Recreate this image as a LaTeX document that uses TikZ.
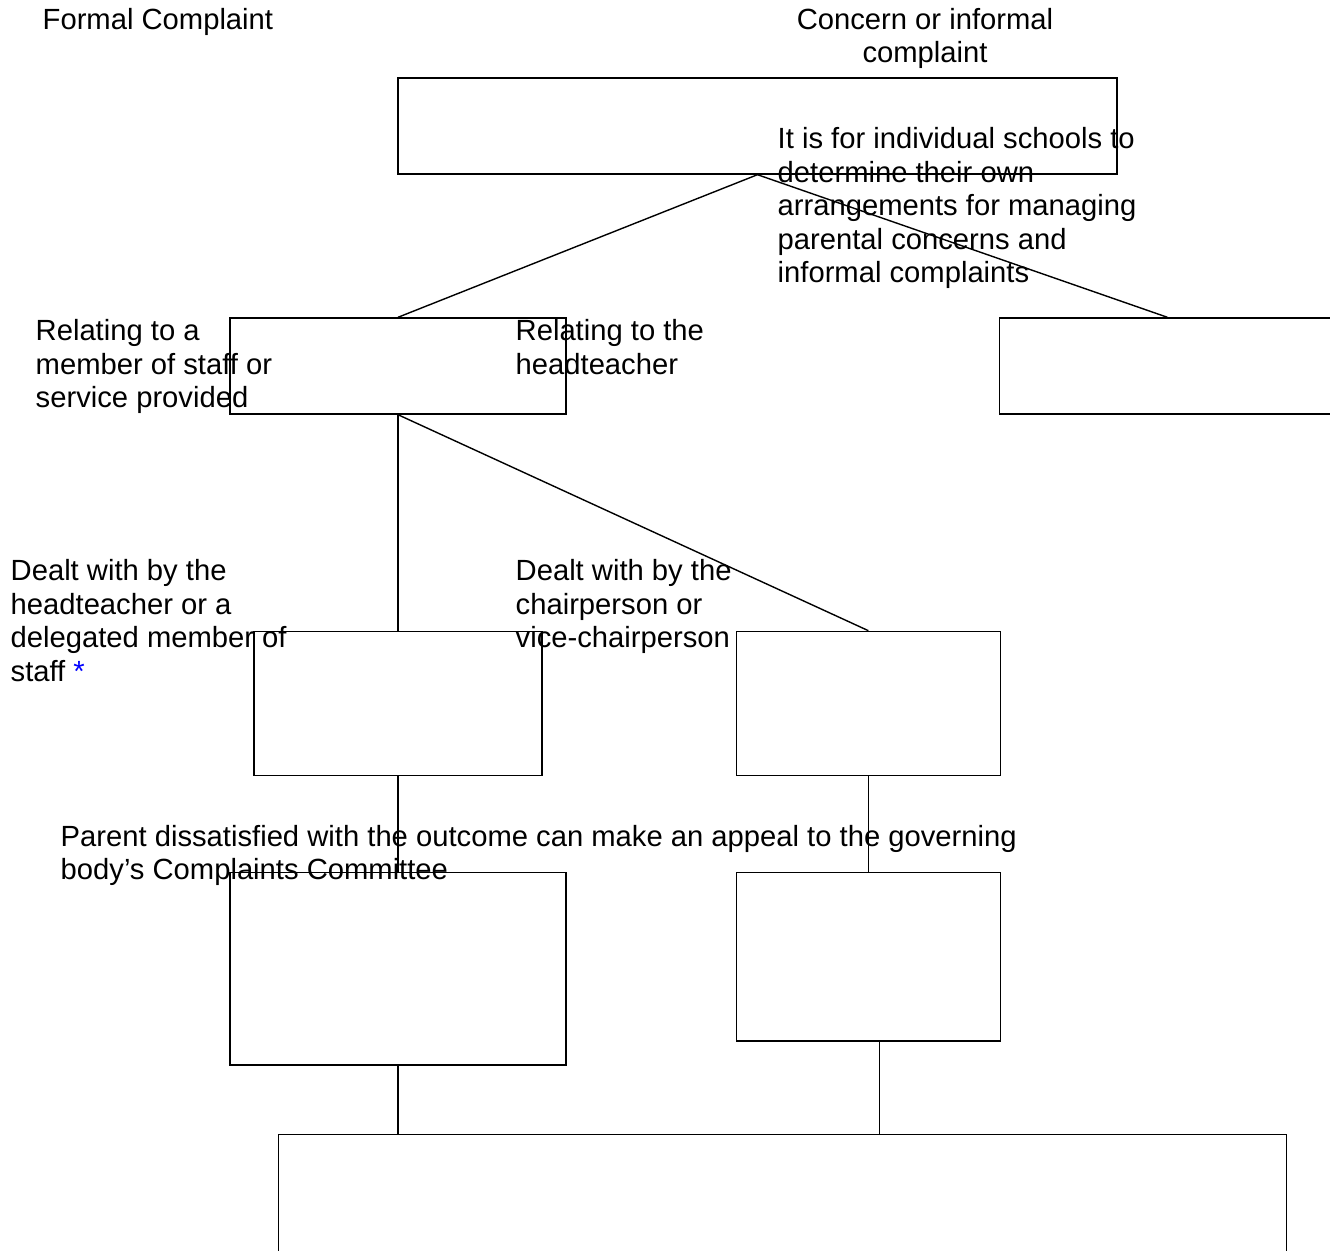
\documentclass[tikz,border=0pt]{standalone}
\usepackage{fontspec}
\setmainfont{Liberation Sans}
\usetikzlibrary{positioning}

\begin{document}
\begin{tikzpicture}[x=0.5pt, y=-0.5pt, line width=0.7pt,
    every node/.style={font=\fontsize{14.6}{16.75}\selectfont},
    box/.style={draw, inner sep=0pt},
    note/.style={align=left, inner sep=0pt, anchor=base west}]
\useasboundingbox (0,0) rectangle (1330,1251);

\node[box, minimum width=359.5pt, minimum height=48pt] (complaint) at (757.5,126) {};
\node[box, minimum width=168pt, minimum height=48pt] (staffbox) at (398,366) {};
\node[box, minimum width=168pt, minimum height=48pt, right=216pt of staffbox] (concernbox) {};
\node[box, minimum width=144pt, minimum height=72pt, below=108pt of staffbox] (headbox) {};
\node[box, minimum width=132pt, minimum height=72pt, right=96.5pt of headbox] (chairbox) {};
\node[box, minimum width=168pt, minimum height=96pt, below=48pt of headbox] (appealleft) {};
\node[box, minimum width=132pt, minimum height=84pt, below=48pt of chairbox] (appealright) {};
\node[box, minimum width=504pt, minimum height=90pt, anchor=north west] (committee) at (278,1134) {};

% base anchor = baseline of the last line
\node[note] (formal) at (42,30) {Formal Complaint};
\node[note, align=center, anchor=base] (concern) at (925,63) {Concern or informal\\complaint};
\node[note] (schools) at (777,283) {It is for individual schools to\\determine their own\\arrangements for managing\\parental concerns and\\informal complaints};
\node[note] (relstaff) at (35,408) {Relating to a\\member of staff or\\service provided};
\node[note] (relhead) at (515,374.5) {Relating to the\\headteacher};
\node[note] (dealthead) at (10,681.5) {Dealt with by the\\headteacher or a\\delegated member of\\staff {\color{blue}*}};
\node[note] (dealtchair) at (515,648) {Dealt with by the\\chairperson or\\vice-chairperson};
\node[note] (parent) at (60,879.5) {Parent dissatisfied with the outcome can make an appeal to the governing\\body’s Complaints Committee};

\draw (complaint.south) -- (staffbox.north);
\draw (complaint.south) -- (concernbox.north);
\draw (staffbox.south) -- (headbox.north);
\draw (staffbox.south) -- (chairbox.north);
\draw (headbox.south) -- (appealleft.north);
\draw (chairbox.south) -- (appealright.north);
\draw (appealleft.south) -- (appealleft.south |- committee.north);
\draw ([xshift=5.5pt]appealright.south) -- ([xshift=5.5pt]appealright.south |- committee.north);
\end{tikzpicture}
\end{document}
